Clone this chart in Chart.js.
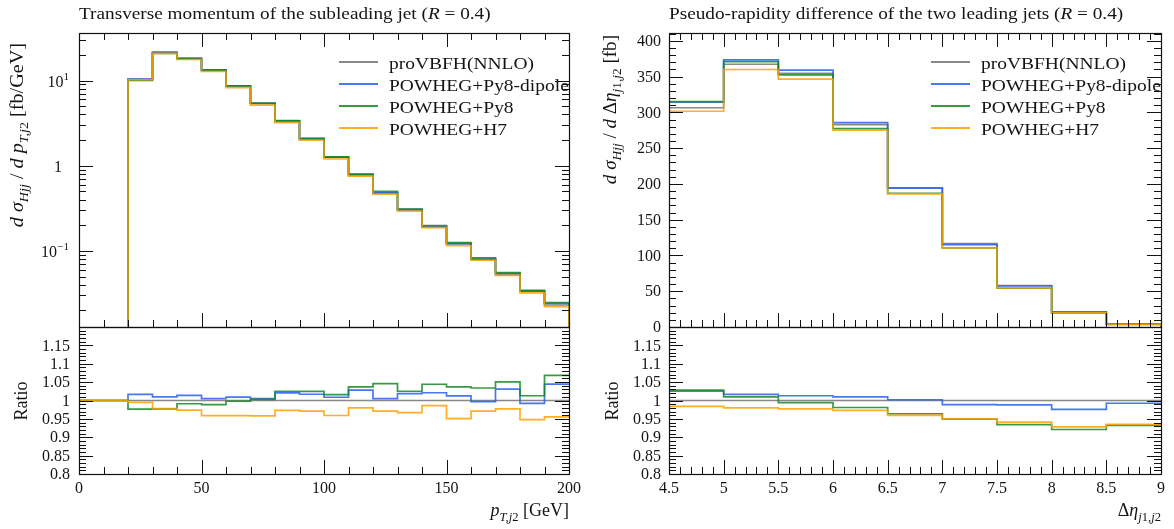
<!DOCTYPE html>
<html><head><meta charset="utf-8">
<script src="https://cdn.jsdelivr.net/npm/chart.js@4.4.1/dist/chart.umd.min.js"></script>
<style>
html,body{margin:0;padding:0;background:#fff;}
#wrap{position:relative;width:1174px;height:529px;overflow:hidden;background:#fff;}
#wrap canvas{position:absolute;left:0;top:0;}
</style></head><body>
<div id="wrap">
<canvas id="tl" width="1174" height="529"></canvas>
<canvas id="bl" width="1174" height="529"></canvas>
<canvas id="tr" width="1174" height="529"></canvas>
<canvas id="br" width="1174" height="529"></canvas>
</div>
<script>
// ---------------- DATA ----------------
const seriesNames = ['proVBFH(NNLO)', 'POWHEG+Py8-dipole', 'POWHEG+Py8', 'POWHEG+H7'];

// Left: transverse momentum of the subleading jet, bin edges in GeV
const ptEdges = [20,30,40,50,60,70,80,90,100,110,120,130,140,150,160,170,180,190,200];
const ptNNLO   = [10.3, 21.3, 18.1, 13.3, 8.6, 5.38, 3.30, 2.05, 1.25, 0.770, 0.478, 0.302, 0.190, 0.121, 0.0800, 0.0528, 0.0340, 0.0232];
const ptDipole = [10.47, 21.51, 18.35, 13.37, 8.677, 5.407, 3.369, 2.085, 1.261, 0.7916, 0.4804, 0.3077, 0.1940, 0.1225, 0.07976, 0.05444, 0.03373, 0.02424];
const ptPy8    = [10.06, 20.81, 17.94, 13.15, 8.583, 5.396, 3.383, 2.101, 1.270, 0.7985, 0.5000, 0.3096, 0.1984, 0.1255, 0.08272, 0.05549, 0.03444, 0.02478];
const ptH7     = [10.25, 20.83, 17.63, 12.755, 8.247, 5.154, 3.211, 1.991, 1.199, 0.7546, 0.4641, 0.2920, 0.1873, 0.1150, 0.07768, 0.05159, 0.03223, 0.02216];

// Right: pseudo-rapidity difference of the two leading jets
const etaEdges = [4.5,5,5.5,6,6.5,7,7.5,8,8.5,9];
const etaNNLO   = [306.5, 367.3, 354.5, 282.8, 194.0, 116.5, 58.0, 21.3, 4.0];
const etaDipole = [314.2, 373.5, 359.1, 285.6, 194.4, 115.2, 57.3, 20.79, 3.97];
const etaPy8    = [315.1, 371.0, 352.4, 277.4, 187.0, 110.6, 54.2, 19.62, 3.73];
const etaH7     = [301.6, 360.0, 346.4, 275.2, 186.2, 110.7, 54.6, 19.77, 3.74];

// Tick labels
const ptTickLabels = [0, 50, 100, 150, 200];
const etaTickLabels = [4.5, 5, 5.5, 6, 6.5, 7, 7.5, 8, 8.5, 9];
const logTickValues = [10, 1, 0.1];
const etaYTickLabels = [0, 50, 100, 150, 200, 250, 300, 350, 400];
const ratioTickLabels = [0.8, 0.85, 0.9, 0.95, 1, 1.05, 1.1, 1.15];

// ---------------- STYLE ----------------
const FONT = '"Liberation Serif", "DejaVu Serif", serif';
const TXT = '#141414';
const WIDE = 1.12; // horizontal stretch to mimic the wider book-style serif of the original
const COLORS = ['rgba(115,115,115,0.85)', 'rgba(40,95,245,0.85)', 'rgba(20,135,35,0.85)', 'rgba(255,160,0,0.85)'];
const ORDERS = [4, 3, 2, 1];
const W = 1174, H = 529;
const BOX = {
  tl: {l: 79, t: 33, r: 569, b: 327},
  bl: {l: 79, t: 327, r: 569, b: 474},
  tr: {l: 669, t: 33, r: 1161, b: 327},
  br: {l: 669, t: 327, r: 1161, b: 474}
};

function histPoints(edges, vals, floorStart, floorEnd) {
  const pts = [];
  if (floorStart !== undefined) pts.push({x: edges[0], y: floorStart});
  vals.forEach((v, i) => pts.push({x: edges[i], y: v}));
  pts.push({x: edges[edges.length - 1], y: vals[vals.length - 1]});
  if (floorEnd !== undefined) pts.push({x: edges[edges.length - 1], y: floorEnd});
  return pts;
}
function ratioPoints(edges, vals, ref, leadStart) {
  const r = vals.map((v, i) => v / ref[i]);
  const pts = [];
  if (leadStart !== undefined) pts.push({x: leadStart, y: 1});
  r.forEach((v, i) => pts.push({x: edges[i], y: v}));
  pts.push({x: edges[edges.length - 1], y: r[r.length - 1]});
  return pts;
}

// ---------------- TEXT HELPERS ----------------
function fontFor(s, size) {
  const sz = (s.sub || s.sup) ? size * 0.7 : size;
  return (s.it ? 'italic ' : '') + sz.toFixed(1) + 'px ' + FONT;
}
function richWidth(ctx, segs, size, sx) {
  let w = 0;
  for (const s of segs) { ctx.font = fontFor(s, size); w += ctx.measureText(s.t).width * sx; }
  return w;
}
function drawRich(ctx, segs, x, y, size, align, sx) {
  sx = sx || 1;
  const w = richWidth(ctx, segs, size, sx);
  let cx = align === 'right' ? x - w : align === 'center' ? x - w / 2 : x;
  ctx.textAlign = 'left';
  ctx.textBaseline = 'alphabetic';
  ctx.fillStyle = TXT;
  for (const s of segs) {
    ctx.font = fontFor(s, size);
    const dy = s.sub ? size * 0.28 : s.sup ? -size * 0.42 : 0;
    ctx.save();
    ctx.translate(cx, y + dy);
    ctx.scale(sx, 1);
    ctx.fillText(s.t, 0, 0);
    ctx.restore();
    cx += ctx.measureText(s.t).width * sx;
  }
}
function drawRichRot(ctx, segs, x, y, size, align, sx) {
  ctx.save();
  ctx.translate(x, y);
  ctx.rotate(-Math.PI / 2);
  drawRich(ctx, segs, 0, 0, size, align, sx);
  ctx.restore();
}

// ---------------- FRAME / TICKS ----------------
function frameAndTicks(chart, spec) {
  const ctx = chart.ctx, a = chart.chartArea;
  const xs = chart.scales.x, ys = chart.scales.y;
  ctx.save();
  ctx.strokeStyle = '#111';
  ctx.lineWidth = 1;
  const line = (x1, y1, x2, y2) => { ctx.beginPath(); ctx.moveTo(x1, y1); ctx.lineTo(x2, y2); ctx.stroke(); };
  const snap = v => Math.round(v) + 0.5;
  for (const t of spec.xTicks) {
    const px = snap(xs.getPixelForValue(t.v));
    if (px < a.left - 1 || px > a.right + 1) continue;
    const len = t.major ? 14 : 7;
    if (spec.bottomTicks) line(px, a.bottom, px, a.bottom - len);
    if (spec.topTicks) line(px, a.top, px, a.top + len);
  }
  for (const t of spec.yTicks) {
    const py = snap(ys.getPixelForValue(t.v));
    if (py < a.top - 1 || py > a.bottom + 1) continue;
    const len = t.major ? 14 : 7;
    line(a.left, py, a.left + len, py);
    line(a.right, py, a.right - len, py);
  }
  ctx.lineWidth = 1.2;
  ctx.strokeRect(Math.round(a.left) + 0.5, Math.round(a.top) + 0.5, Math.round(a.right - a.left), Math.round(a.bottom - a.top));
  ctx.restore();
}

function legend(chart, x0) {
  const ctx = chart.ctx;
  const rows = [62, 84, 106, 128];
  ctx.save();
  seriesNames.forEach((n, i) => {
    ctx.strokeStyle = COLORS[i];
    ctx.lineWidth = 1.8;
    ctx.beginPath(); ctx.moveTo(x0, rows[i]); ctx.lineTo(x0 + 39, rows[i]); ctx.stroke();
    drawRich(ctx, [{t: n}], x0 + 50, rows[i] + 6.5, 17.4, 'left', WIDE);
  });
  ctx.restore();
}

function xTickLabels(chart, labels, fmt) {
  const ctx = chart.ctx, xs = chart.scales.x;
  ctx.save();
  ctx.fillStyle = TXT; ctx.font = '16px ' + FONT;
  ctx.textAlign = 'center'; ctx.textBaseline = 'alphabetic';
  labels.forEach(v => ctx.fillText(fmt(v), xs.getPixelForValue(v), 493));
  ctx.restore();
}
function yTickLabels(chart, labels, fmt, xr) {
  const ctx = chart.ctx, ys = chart.scales.y;
  ctx.save();
  ctx.fillStyle = TXT; ctx.font = '16px ' + FONT;
  ctx.textAlign = 'right'; ctx.textBaseline = 'middle';
  labels.forEach(v => ctx.fillText(fmt(v), xr, ys.getPixelForValue(v) + 1));
  ctx.restore();
}

function linTicks(min, max, minorStep, majorStep) {
  const out = [];
  const n = Math.round((max - min) / minorStep);
  for (let i = 0; i <= n; i++) {
    const v = +(min + i * minorStep).toFixed(6);
    const k = (v - min) / majorStep;
    out.push({v, major: Math.abs(k - Math.round(k)) < 1e-6});
  }
  return out;
}
function logTicks(min, max) {
  const out = [];
  for (let e = -3; e <= 2; e++) {
    for (let m = 1; m <= 9; m++) {
      const v = m * Math.pow(10, e);
      if (v >= min && v <= max) out.push({v, major: m === 1});
    }
  }
  return out;
}

// ---------------- CHARTS ----------------
function baseOptions(box, xMin, xMax, yOpts) {
  return {
    responsive: false, animation: false, devicePixelRatio: 1, events: [],
    layout: {padding: {left: box.l, top: box.t, right: W - box.r, bottom: H - box.b}},
    plugins: {legend: {display: false}, tooltip: {enabled: false}, title: {display: false}},
    elements: {point: {radius: 0}, line: {borderWidth: 1.7, tension: 0}},
    scales: {
      x: {type: 'linear', min: xMin, max: xMax, display: false},
      y: Object.assign({display: false}, yOpts)
    }
  };
}
function makeDatasets(pointsList) {
  return pointsList.map((pts, i) => ({
    label: seriesNames[i], data: pts, borderColor: COLORS[i], backgroundColor: COLORS[i],
    stepped: 'before', fill: false, order: ORDERS[i], pointRadius: 0, borderCapStyle: 'butt', borderJoinStyle: 'miter'
  }));
}

const LOG_MIN = 0.0128, LOG_MAX = 36.1;
const ptSeries = [ptNNLO, ptDipole, ptPy8, ptH7];
const etaSeries = [etaNNLO, etaDipole, etaPy8, etaH7];

// Top-left
new Chart(document.getElementById('tl'), {
  type: 'line',
  data: {datasets: makeDatasets(ptSeries.map(s => histPoints(ptEdges, s, 1e-4, 1e-4)))},
  options: baseOptions(BOX.tl, 0, 200, {type: 'logarithmic', min: LOG_MIN, max: LOG_MAX}),
  plugins: [{
    id: 'decorTL',
    afterDraw(chart) {
      frameAndTicks(chart, {xTicks: linTicks(0, 200, 10, 50), yTicks: logTicks(LOG_MIN, LOG_MAX), topTicks: true, bottomTicks: true});
      const ctx = chart.ctx, ys = chart.scales.y;
      logTickValues.forEach(v => {
        const py = ys.getPixelForValue(v);
        if (v === 1) drawRich(ctx, [{t: '1'}], 62, py + 6, 16, 'right');
        else drawRich(ctx, [{t: '10'}, {t: v > 1 ? '1' : '\u22121', sup: true}], 69, py + 6, 16, 'right');
      });
      drawRich(ctx, [{t: 'Transverse momentum of the subleading jet ('}, {t: 'R', it: true}, {t: ' = 0.4)'}], 79, 19, 17.2, 'left', WIDE);
      drawRichRot(ctx, [{t: 'd', it: true}, {t: ' '}, {t: '\u03c3', it: true}, {t: 'Hjj', it: true, sub: true}, {t: ' / '}, {t: 'd', it: true}, {t: ' '}, {t: 'p', it: true}, {t: 'T,j', it: true, sub: true}, {t: '2', sub: true}, {t: ' [fb/GeV]'}], 23, 43, 18, 'right', WIDE);
      legend(chart, 339);
    }
  }]
});

// Bottom-left (ratio)
new Chart(document.getElementById('bl'), {
  type: 'line',
  data: {datasets: makeDatasets(ptSeries.map(s => ratioPoints(ptEdges, s, ptNNLO, 0)))},
  options: baseOptions(BOX.bl, 0, 200, {type: 'linear', min: 0.8, max: 1.2}),
  plugins: [{
    id: 'decorBL',
    afterDraw(chart) {
      frameAndTicks(chart, {xTicks: linTicks(0, 200, 10, 50), yTicks: linTicks(0.8, 1.2, 0.01, 0.05), topTicks: false, bottomTicks: true});
      yTickLabels(chart, ratioTickLabels, v => String(v), 70);
      xTickLabels(chart, ptTickLabels, v => String(v));
      drawRichRot(chart.ctx, [{t: 'Ratio'}], 27, 401, 18, 'center');
      drawRich(chart.ctx, [{t: 'p', it: true}, {t: 'T,j', it: true, sub: true}, {t: '2', sub: true}, {t: ' [GeV]'}], 569, 516, 18, 'right');
    }
  }]
});

// Top-right
new Chart(document.getElementById('tr'), {
  type: 'line',
  data: {datasets: makeDatasets(etaSeries.map(s => histPoints(etaEdges, s, 0, 0)))},
  options: baseOptions(BOX.tr, 4.5, 9, {type: 'linear', min: 0, max: 411}),
  plugins: [{
    id: 'decorTR',
    afterDraw(chart) {
      frameAndTicks(chart, {xTicks: linTicks(4.5, 9, 0.1, 0.5), yTicks: linTicks(0, 410, 10, 50), topTicks: true, bottomTicks: true});
      yTickLabels(chart, etaYTickLabels, v => String(v), 661);
      const ctx = chart.ctx;
      drawRich(ctx, [{t: 'Pseudo-rapidity difference of the two leading jets ('}, {t: 'R', it: true}, {t: ' = 0.4)'}], 669, 19, 17.2, 'left', WIDE);
      drawRichRot(ctx, [{t: 'd', it: true}, {t: ' '}, {t: '\u03c3', it: true}, {t: 'Hjj', it: true, sub: true}, {t: ' / '}, {t: 'd', it: true}, {t: ' \u0394'}, {t: '\u03b7', it: true}, {t: 'j', it: true, sub: true}, {t: '1,', sub: true}, {t: 'j', it: true, sub: true}, {t: '2', sub: true}, {t: ' [fb]'}], 616, 35, 18, 'right', 1.06);
      legend(chart, 931);
    }
  }]
});

// Bottom-right (ratio)
new Chart(document.getElementById('br'), {
  type: 'line',
  data: {datasets: makeDatasets(etaSeries.map(s => ratioPoints(etaEdges, s, etaNNLO)))},
  options: baseOptions(BOX.br, 4.5, 9, {type: 'linear', min: 0.8, max: 1.2}),
  plugins: [{
    id: 'decorBR',
    afterDraw(chart) {
      frameAndTicks(chart, {xTicks: linTicks(4.5, 9, 0.1, 0.5), yTicks: linTicks(0.8, 1.2, 0.01, 0.05), topTicks: false, bottomTicks: true});
      yTickLabels(chart, ratioTickLabels, v => String(v), 661);
      xTickLabels(chart, etaTickLabels, v => String(v));
      drawRichRot(chart.ctx, [{t: 'Ratio'}], 618, 401, 18, 'center');
      drawRich(chart.ctx, [{t: '\u0394'}, {t: '\u03b7', it: true}, {t: 'j', it: true, sub: true}, {t: '1,', sub: true}, {t: 'j', it: true, sub: true}, {t: '2', sub: true}], 1161, 516, 18, 'right');
    }
  }]
});
</script>
</body></html>
